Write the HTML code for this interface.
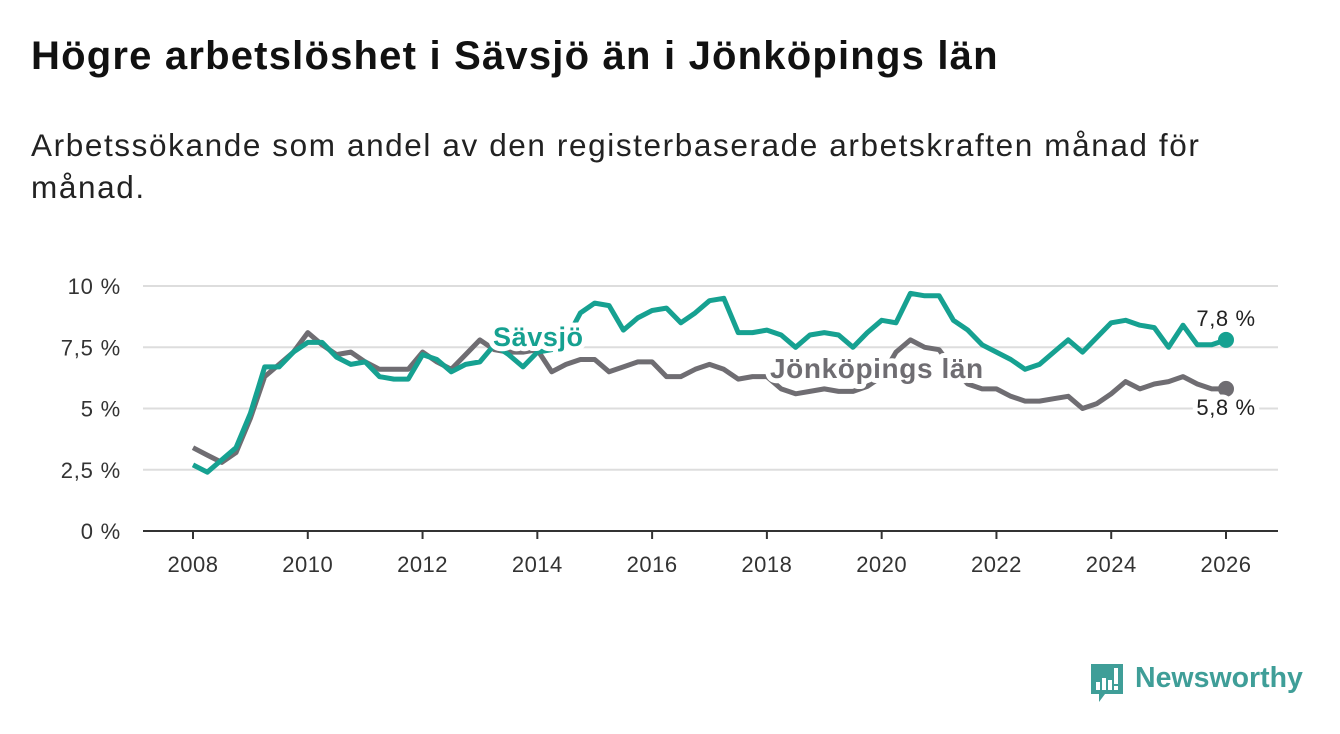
<!DOCTYPE html>
<html><head><meta charset="utf-8">
<style>
body{margin:0;background:#fff;width:1340px;height:734px;overflow:hidden;font-family:"Liberation Sans",sans-serif;}
#title{position:absolute;left:31px;top:34px;font-size:40px;font-weight:bold;color:#111;margin:0;letter-spacing:1.2px;white-space:nowrap;}
#sub{position:absolute;left:31px;top:124px;font-size:31.5px;color:#222;line-height:42px;width:1280px;letter-spacing:1.6px;}
svg{position:absolute;left:0;top:0;}
</style></head><body>
<h1 id="title">Högre arbetslöshet i Sävsjö än i Jönköpings län</h1>
<div id="sub">Arbetssökande som andel av den registerbaserade arbetskraften månad för<br>månad.</div>
<svg id="chart" width="1340" height="734"></svg>
<div style="position:absolute;left:1089px;top:662px;">
<svg width="36" height="42" style="position:static"><path d="M2 2h32v30H16l-6 8v-8H2z" fill="#3f9e98"/><rect x="7" y="20" width="4" height="8" fill="#fff"/><rect x="13" y="16" width="4" height="12" fill="#fff"/><rect x="19" y="18" width="4" height="10" fill="#fff"/><rect x="25" y="6" width="4" height="16" fill="#fff"/><rect x="25" y="24" width="4" height="4" fill="#fff"/></svg>
<span style="position:absolute;left:46px;top:0px;font-size:28.5px;color:#3f9e98;font-weight:bold;white-space:nowrap;">Newsworthy</span></div>
<script>
const startYear = 2008;
const savsjo = [2.7,2.4,2.9,3.4, 4.8,6.7,6.7,7.3, 7.7,7.7,7.1,6.8, 6.9,6.3,6.2,6.2, 7.2,7.0,6.5,6.8, 6.9,7.6,7.2,6.7, 7.3,7.4,7.8,8.9, 9.3,9.2,8.2,8.7, 9.0,9.1,8.5,8.9, 9.4,9.5,8.1,8.1, 8.2,8.0,7.5,8.0, 8.1,8.0,7.5,8.1, 8.6,8.5,9.7,9.6, 9.6,8.6,8.2,7.6, 7.3,7.0,6.6,6.8, 7.3,7.8,7.3,7.9, 8.5,8.6,8.4,8.3, 7.5,8.4,7.6,7.6, 7.8];
const jonkoping = [3.4,3.1,2.8,3.2, 4.6,6.3,6.8,7.3, 8.1,7.6,7.2,7.3, 6.9,6.6,6.6,6.6, 7.3,6.9,6.6,7.2, 7.8,7.4,7.3,7.3, 7.4,6.5,6.8,7.0, 7.0,6.5,6.7,6.9, 6.9,6.3,6.3,6.6, 6.8,6.6,6.2,6.3, 6.3,5.8,5.6,5.7, 5.8,5.7,5.7,5.9, 6.3,7.3,7.8,7.5, 7.4,6.6,6.0,5.8, 5.8,5.5,5.3,5.3, 5.4,5.5,5.0,5.2, 5.6,6.1,5.8,6.0, 6.1,6.3,6.0,5.8, 5.8];
const yTicks = [0,2.5,5,7.5,10];
const yTickLabels = ["0 %","2,5 %","5 %","7,5 %","10 %"];
const xTicks = [2008,2010,2012,2014,2016,2018,2020,2022,2024,2026];

const NS="http://www.w3.org/2000/svg";
const svg=document.getElementById('chart');
const X=t=>193+(t-2008)*(1226-193)/18;
const Y=v=>531-v*24.5;
function el(tag,attrs,parent){const e=document.createElementNS(NS,tag);for(const k in attrs)e.setAttribute(k,attrs[k]);(parent||svg).appendChild(e);return e;}
yTicks.forEach((v,i)=>{
  const g=el('line',{x1:143,x2:1278,y1:Y(v),y2:Y(v),stroke:v===0?'#333':'#ddd','stroke-width':2});
  
  
  const t=el('text',{x:121,y:Y(v)+8,'text-anchor':'end','font-size':22,'letter-spacing':0.8,fill:'#333','font-family':'Liberation Sans'});
  t.textContent=yTickLabels[i];
  
  
});
xTicks.forEach(yr=>{
  const l=el('line',{x1:X(yr),x2:X(yr),y1:531,y2:539,stroke:'#333','stroke-width':2});
  
  
  const t=el('text',{x:X(yr),y:572,'text-anchor':'middle','font-size':22,'letter-spacing':0.5,fill:'#333','font-family':'Liberation Sans'});
  t.textContent=yr;
  
  
});
function line(data,color,name){
  const d=data.map((v,i)=>(i?'L':'M')+X(startYear+i/4).toFixed(1)+' '+Y(v).toFixed(1)).join(' ');
  const p=el('path',{d,fill:'none',stroke:color,'stroke-width':5,'stroke-linejoin':'round'});
  
  
  const n=data.length-1;
  const c=el('circle',{cx:X(startYear+n/4),cy:Y(data[n]),r:8,fill:color});
  
  
}
line(jonkoping,'#6f6d72','jonkoping-line');
line(savsjo,'#16a191','savsjo-line');
function label(txt,x,y,color,size,bold,anchor,name){
  const t=el('text',{x,y,'font-size':size,'font-weight':bold?'bold':'normal',fill:color,'text-anchor':anchor||'start',stroke:'#fff','stroke-width':10,'paint-order':'stroke','stroke-linejoin':'round','font-family':'Liberation Sans','letter-spacing':0.6});
  t.textContent=txt;
  
  
}
label('Sävsjö',493,346,'#16a191',27,true,'start','savsjo-label');
label('Jönköpings län',770,378,'#6f6d72',28,true,'start','jonkoping-label');
label('7,8 %',1226,326,'#222',22,false,'middle','savsjo-last-value');
label('5,8 %',1226,415,'#222',22,false,'middle','jonkoping-last-value');
</script>
</body></html>
